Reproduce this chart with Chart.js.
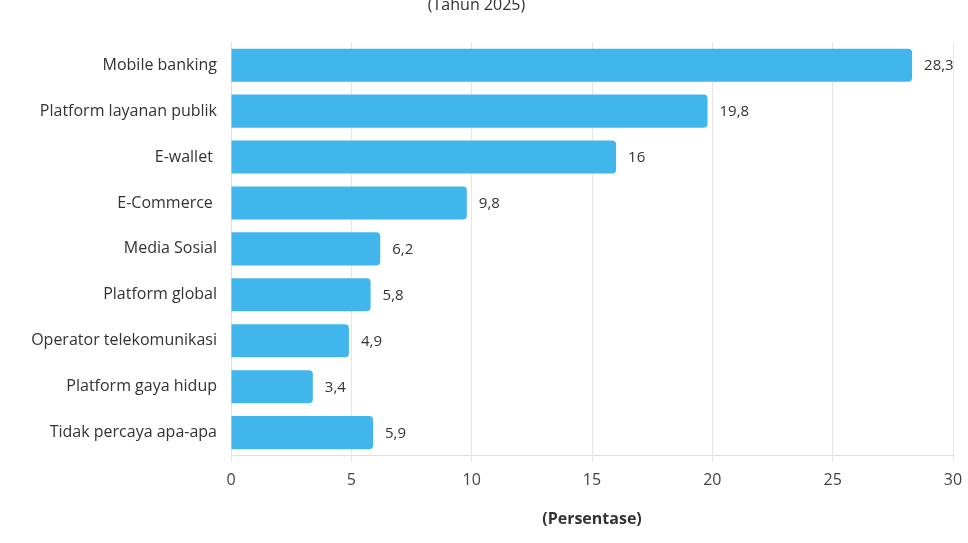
<!DOCTYPE html>
<html>
<head>
<meta charset="utf-8">
<script src="https://cdn.jsdelivr.net/npm/chart.js@4"></script>
<style>
  html, body { margin: 0; padding: 0; background: #fff; overflow: hidden; }
  .wrap { position: absolute; left: 0; top: -4px; width: 968px; height: 547px; }
</style>
</head>
<body>
<div class="wrap"><canvas id="myChart"></canvas></div>
<script>
const categories = [
  "Mobile banking",
  "Platform layanan publik",
  "E-wallet ",
  "E-Commerce ",
  "Media Sosial",
  "Platform global",
  "Operator telekomunikasi",
  "Platform gaya hidup",
  "Tidak percaya apa-apa"
];
const values = [28.3, 19.8, 16, 9.8, 6.2, 5.8, 4.9, 3.4, 5.9];
const xTicks = [0, 5, 10, 15, 20, 25, 30];

const FONT = "'Open Sans', sans-serif";
const TEXT = "#333333";

// value labels at the end of each bar, comma as decimal sign
const valueLabels = {
  id: "valueLabels",
  afterDatasetsDraw(chart) {
    const ctx = chart.ctx;
    const meta = chart.getDatasetMeta(0);
    ctx.save();
    ctx.font = "15px " + FONT;
    ctx.fillStyle = TEXT;
    ctx.textAlign = "left";
    ctx.textBaseline = "middle";
    meta.data.forEach((bar, i) => {
      const txt = String(values[i]).replace(".", ",");
      ctx.fillText(txt, bar.x + 12, bar.y + 1);
    });
    ctx.restore();
  }
};

new Chart(document.getElementById("myChart"), {
  type: "bar",
  data: {
    labels: categories,
    datasets: [{
      data: values,
      backgroundColor: "#41b6ec",
      borderRadius: 4,
      borderSkipped: "start",
      categoryPercentage: 0.8,
      barPercentage: 0.9
    }]
  },
  options: {
    indexAxis: "y",
    responsive: true,
    maintainAspectRatio: false,
    animation: false,
    layout: { padding: { left: 0, right: 15, top: 0, bottom: 10 } },
    plugins: {
      legend: { display: false },
      tooltip: { enabled: false },
      title: {
        display: true,
        text: "(Tahun 2025)",
        color: TEXT,
        font: { family: FONT, size: 16, weight: "normal" },
        padding: { top: 0, bottom: 27 }
      }
    },
    scales: {
      x: {
        min: 0,
        max: 30,
        afterBuildTicks(scale) {
          scale.ticks = xTicks.map(v => ({ value: v }));
        },
        afterFit(scale) {
          // let the "30" label hang into the right padding
          scale.paddingRight = 0;
          scale.paddingLeft = 0;
        },
        grid: { color: "#e6e6e6", tickLength: 6, tickColor: "#e6e6e6" },
        border: { color: "#e0e0e0" },
        ticks: {
          color: "#444",
          font: { family: FONT, size: 16 },
          padding: 9
        },
        title: {
          display: true,
          text: "(Persentase)",
          color: TEXT,
          font: { family: FONT, size: 16, weight: "bold" },
          padding: { top: 11, bottom: 4 }
        }
      },
      y: {
        afterFit(scale) { scale.width = 231; },
        grid: { display: false, drawTicks: false },
        border: { display: true, color: "#e0e0e0" },
        ticks: {
          color: TEXT,
          font: { family: FONT, size: 16 },
          padding: 14
        }
      }
    }
  },
  plugins: [valueLabels]
});
</script>
</body>
</html>
